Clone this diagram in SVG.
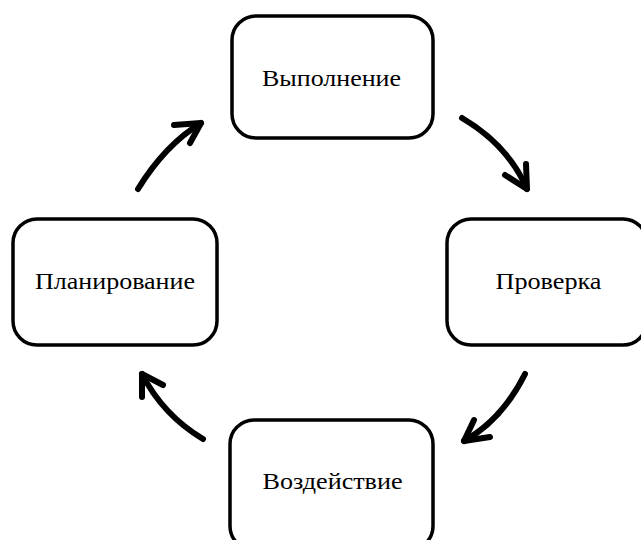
<svg xmlns="http://www.w3.org/2000/svg" width="641" height="540" viewBox="0 0 641 540">
<style>
.box{fill:#fff;stroke:#000;stroke-width:3.5}
.lbl{font-family:"Liberation Serif","Times New Roman",serif;font-size:24px;fill:#000;text-anchor:middle}
.arr{fill:none;stroke:#000;stroke-width:6;stroke-linecap:round;stroke-linejoin:round}
</style>
<rect width="641" height="540" fill="#fff"/>
<g id="node-vypolnenie"><rect class="box" x="232" y="16" width="201" height="122" rx="24"/><text class="lbl" x="331.5" y="86" textLength="139" lengthAdjust="spacingAndGlyphs">Выполнение</text></g>
<g id="node-proverka"><rect class="box" x="447" y="219" width="200" height="126" rx="24"/><text class="lbl" x="548.5" y="289" textLength="106" lengthAdjust="spacingAndGlyphs">Проверка</text></g>
<g id="node-planirovanie"><rect class="box" x="13" y="219" width="204" height="126" rx="24"/><text class="lbl" x="115" y="289" textLength="160" lengthAdjust="spacingAndGlyphs">Планирование</text></g>
<g id="node-vozdeystvie"><rect class="box" x="230" y="420" width="203" height="130" rx="24"/><text class="lbl" x="332.5" y="489" textLength="140" lengthAdjust="spacingAndGlyphs">Воздействие</text></g>
<g id="connectors">
<path class="arr" d="M462,118 Q508,145 527,189"/><polyline class="arr" points="505,175 527,189 526,164"/>
<path class="arr" d="M525,374 Q502,420 464,441"/><polyline class="arr" points="474,420 464,441 490,437"/>
<path class="arr" d="M203,439 Q163,415 142,374"/><polyline class="arr" points="142,397 142,374 163,385"/>
<path class="arr" d="M138,189 Q165,145 201,123"/><polyline class="arr" points="174,125 201,123 190,143"/>
</g>
</svg>
